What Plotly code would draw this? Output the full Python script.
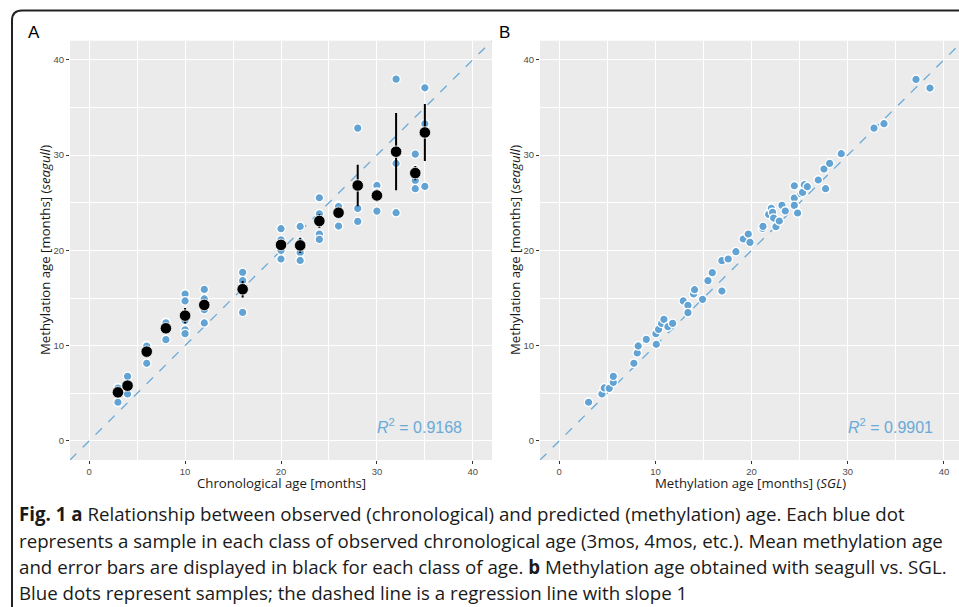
import plotly.graph_objects as go

# ---------------- data ----------------
# Panel A: individual samples (chronological age class, seagull methylation age)
sample_chron = [3, 3, 3, 4, 4, 4, 6, 6, 6, 8, 8, 8,
                10, 10, 10, 10, 10, 12, 12, 12, 12, 12,
                16, 16, 16, 20, 20, 20, 20, 22, 22, 22, 22,
                24, 24, 24, 24, 26, 26, 26, 28, 28, 28,
                30, 30, 30, 30, 32, 32, 32, 34, 34, 34, 34, 35, 35, 35]
sample_meth = [5.6, 5.55, 4.06, 6.78, 5.7, 4.93, 10.0, 9.95, 8.15, 12.45, 12.4, 10.63,
               15.42, 14.69, 12.65, 11.67, 11.26, 15.9, 14.9, 14.3, 13.77, 12.38,
               17.69, 16.82, 13.49, 22.27, 21.1, 20.0, 19.09, 22.51, 20.9, 19.78, 18.94,
               25.52, 23.84, 21.71, 21.15, 24.71, 24.6, 22.55, 32.83, 24.4, 23.04,
               26.81, 26.1, 26.0, 24.12, 37.97, 29.12, 23.95, 30.1, 28.46, 27.34, 26.47,
               37.06, 33.28, 26.71]

# Panel A: class means and error bars
class_age = [3, 4, 6, 8, 10, 12, 16, 20, 22, 24, 26, 28, 30, 32, 34, 35]
class_mean = [5.1, 5.8, 9.37, 11.82, 13.15, 14.27, 15.92, 20.57, 20.52, 23.08,
              23.95, 26.81, 25.76, 30.35, 28.11, 32.37]
class_err = [0.35, 0.4, 0.4, 0.4, 0.8, 0.6, 0.87, 0.6, 0.8, 0.73,
             0.4, 2.17, 0.6, 4.05, 0.75, 3.0]

# Panel B: SGL vs seagull methylation age
sgl_age = [3.05, 4.44, 4.68, 5.2, 5.62, 5.62, 7.76, 8.11, 8.21, 9.05, 10.05, 10.09,
           10.33, 10.64, 10.88, 11.3, 11.79, 12.89, 13.38, 13.38, 13.97, 14.07, 14.9,
           15.46, 15.91, 16.91, 16.91, 17.57, 18.37, 19.13, 19.65, 19.83, 21.14, 21.18,
           21.77, 22.05, 22.18, 22.29, 22.53, 22.88, 23.15, 23.5, 24.44, 24.44, 24.44,
           24.78, 25.13, 25.3, 25.48, 25.79, 26.93, 27.52, 27.69, 28.11, 29.32, 32.72,
           33.76, 37.09, 38.54]
seagull_age = [4.06, 4.93, 5.56, 5.52, 6.15, 6.78, 8.15, 9.23, 9.97, 10.66, 11.26, 10.14,
               11.71, 12.34, 12.76, 11.99, 12.34, 14.69, 14.23, 13.46, 15.42, 15.87, 14.86,
               16.82, 17.66, 15.73, 18.92, 19.09, 19.86, 21.19, 21.71, 20.84, 22.31, 22.52,
               23.78, 24.41, 23.99, 23.39, 22.48, 23.08, 24.72, 24.13, 26.78, 25.49, 24.72,
               23.92, 25.94, 26.08, 26.89, 26.68, 27.38, 28.53, 26.47, 29.13, 30.14, 32.83,
               33.29, 37.94, 37.03]

ref_line = [-2, 42]          # slope-1 reference line
r2_labels = ["0.9168", "0.9901"]
axis_ticks = [0, 10, 20, 30, 40]

# ---------------- styling ----------------
W, H = 959, 607
BLUE = "#62a3d3"
LINEBLUE = "#6aaad8"
PANEL = "#ebebeb"

def px_x(p):
    return p / W

def px_y(p):
    return 1 - p / H

fig = go.Figure()

# Panel A
fig.add_trace(go.Scatter(x=ref_line, y=ref_line, mode="lines",
                         line=dict(color=LINEBLUE, width=1.3, dash="dash"),
                         xaxis="x", yaxis="y", hoverinfo="skip"))
fig.add_trace(go.Scatter(x=sample_chron, y=sample_meth, mode="markers",
                         marker=dict(color=BLUE, size=8.5, line=dict(color="white", width=1.3)),
                         xaxis="x", yaxis="y"))
fig.add_trace(go.Scatter(x=class_age, y=class_mean, mode="markers",
                         marker=dict(color="black", size=11.5, line=dict(color="white", width=0.8)),
                         error_y=dict(type="data", array=class_err, visible=True,
                                      color="black", thickness=2, width=0),
                         xaxis="x", yaxis="y"))

# Panel B
fig.add_trace(go.Scatter(x=ref_line, y=ref_line, mode="lines",
                         line=dict(color=LINEBLUE, width=1.3, dash="dash"),
                         xaxis="x2", yaxis="y2", hoverinfo="skip"))
fig.add_trace(go.Scatter(x=sgl_age, y=seagull_age, mode="markers",
                         marker=dict(color=BLUE, size=8.5, line=dict(color="white", width=1.3)),
                         xaxis="x2", yaxis="y2"))

tickfont = dict(family="Liberation Sans, Arial, sans-serif", size=9.5, color="#4d4d4d")
common = dict(showgrid=True, gridcolor="white", gridwidth=1.1, zeroline=False,
              showline=False, ticks="outside", ticklen=3, tickcolor="#333333",
              tickwidth=0.8, tickvals=axis_ticks, tickfont=tickfont,
              minor=dict(dtick=5, tick0=0, showgrid=True, gridcolor="white",
                         gridwidth=0.5, ticks=""),
              fixedrange=True)

y_dom = [px_y(460), px_y(40.7)]
fig.update_layout(
    width=W, height=H, margin=dict(l=0, r=0, t=0, b=0),
    paper_bgcolor="white", plot_bgcolor=PANEL, showlegend=False,
    xaxis=dict(domain=[px_x(70), px_x(492)], range=[-2, 42], anchor="y", **common),
    yaxis=dict(domain=y_dom, range=[-2, 42], anchor="x", **common),
    xaxis2=dict(domain=[px_x(540), 1.0], range=[-2, 41.56], anchor="y2", **common),
    yaxis2=dict(domain=y_dom, range=[-2, 42], anchor="x2", **common),
)

def note(x, y, text, font, **kw):
    d = dict(x=px_x(x), y=px_y(y), xref="paper", yref="paper", text=text,
             showarrow=False, font=font, xanchor="center", yanchor="middle")
    d.update(kw)
    return d

title_font = dict(family="Open Sans, sans-serif", size=13.2, color="#1a1a1a")
letter_font = dict(family="Liberation Sans, Arial", size=17, color="black")
ann = [
    note(34, 33, "A", letter_font),
    note(504, 33, "B", letter_font),
    note(281, 483, "Chronological age [months]", title_font),
    note(750, 483, "Methylation age [months] (<i>SGL</i>)", title_font),
    note(45, 250, "Methylation age [months] (<i>seagull</i>)", title_font, textangle=-90),
    note(515, 250, "Methylation age [months] (<i>seagull</i>)", title_font, textangle=-90),
]
# R^2 labels
r2_font = dict(family="Liberation Sans, Arial", size=16, color=LINEBLUE)
for xr, yr, lab in (("x", "y", r2_labels[0]), ("x2", "y2", r2_labels[1])):
    ann.append(dict(x=34.4, y=1.6, xref=xr, yref=yr, showarrow=False, font=r2_font,
                    xanchor="center", yanchor="middle",
                    text=f"<i>R</i><sup>2</sup> = {lab}"))

# caption
cap_font = dict(family="Open Sans, sans-serif", size=18.7, color="#1a1a1a")
cap_lines = [
    "<b>Fig. 1 a</b> Relationship between observed (chronological) and predicted (methylation) age. Each blue dot",
    "represents a sample in each class of observed chronological age (3mos, 4mos, etc.). Mean methylation age",
    "and error bars are displayed in black for each class of age. <b>b</b> Methylation age obtained with seagull vs. SGL.",
    "Blue dots represent samples; the dashed line is a regression line with slope 1",
]
cap_y = [513, 540, 566, 592]
for t, yy in zip(cap_lines, cap_y):
    ann.append(note(17, yy, t, cap_font, xanchor="left"))

fig.update_layout(annotations=ann)

# rounded outer frame
x0, y0 = px_x(12), px_y(10.5)
r_x, r_y = 10 / W, 10 / H
path = (f"M {x0},-0.1 L {x0},{y0 - r_y} Q {x0},{y0} {x0 + r_x},{y0} L 1.1,{y0}")
fig.add_shape(type="path", path=path, xref="paper", yref="paper",
              line=dict(color="#222222", width=2))

fig.write_html("out.html", config={"displayModeBar": False},
               post_script="document.body.style.margin='0';")
